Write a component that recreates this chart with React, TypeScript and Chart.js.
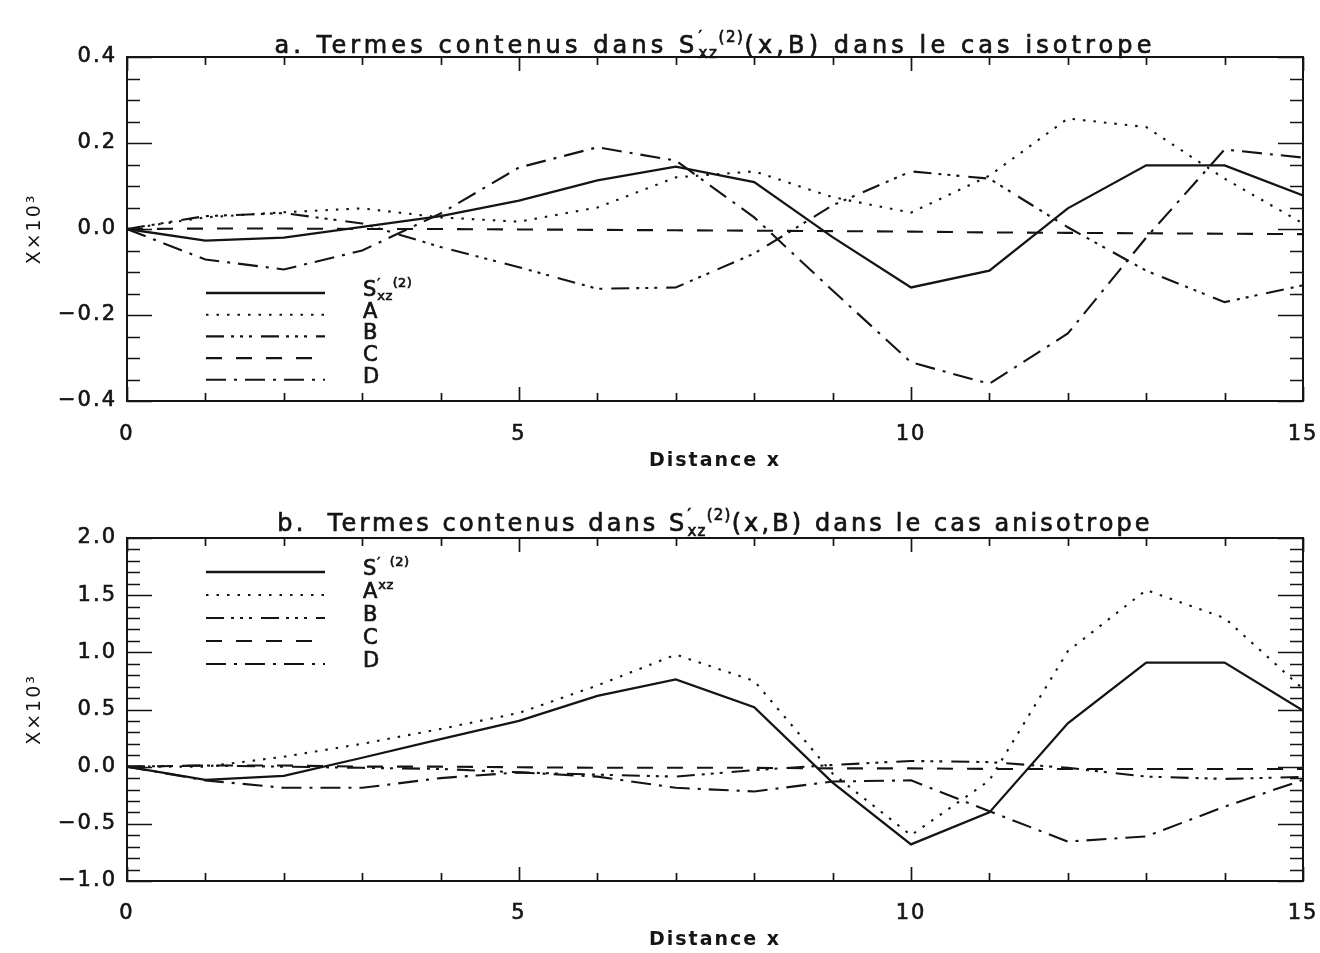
import React, { useEffect, useRef } from "react";
import { Chart, registerables } from "chart.js";

Chart.register(...registerables);

// ---------- data ----------
const X_VALUES = [0, 1, 2, 3, 4, 5, 6, 7, 8, 9, 10, 11, 12, 13, 14, 15];
const SERIES_NAMES = ["S'xz(2)", "A", "B", "C", "D"];

// panel a (isotrope)
const S_ISO = [0, -0.027, -0.02, 0.005, 0.03, 0.066, 0.113, 0.145, 0.109, -0.019, -0.136, -0.097, 0.048, 0.148, 0.148, 0.078];
const A_ISO = [0, 0.027, 0.039, 0.048, 0.027, 0.017, 0.05, 0.12, 0.134, 0.074, 0.038, 0.124, 0.257, 0.237, 0.117, 0.013];
const B_ISO = [0, 0.03, 0.037, 0.013, -0.042, -0.089, -0.139, -0.136, -0.057, 0.055, 0.134, 0.117, 0.004, -0.097, -0.17, -0.131];
const C_ISO = [0, 0.001, 0.001, 0, 0, -0.001, -0.002, -0.003, -0.004, -0.005, -0.006, -0.008, -0.009, -0.01, -0.011, -0.012];
const D_ISO = [0, -0.071, -0.094, -0.05, 0.036, 0.143, 0.19, 0.159, 0.027, -0.143, -0.31, -0.36, -0.243, -0.02, 0.185, 0.166];

// panel b (anisotrope)
const S_ANI = [0, -0.116, -0.081, 0.078, 0.24, 0.4, 0.62, 0.763, 0.52, -0.14, -0.68, -0.4, 0.38, 0.91, 0.91, 0.49];
const A_ANI = [0, 0.0, 0.087, 0.2, 0.33, 0.47, 0.71, 0.98, 0.75, -0.06, -0.6, -0.12, 1.01, 1.545, 1.3, 0.68];
const B_ANI = [0, 0.01, 0.0, -0.01, -0.02, -0.05, -0.07, -0.087, -0.03, 0.015, 0.05, 0.04, -0.01, -0.087, -0.107, -0.09];
const C_ANI = [0, 0.01, 0.01, 0.0, 0.0, -0.005, -0.01, -0.01, -0.01, -0.015, -0.015, -0.02, -0.02, -0.02, -0.02, -0.02];
const D_ANI = [0, -0.12, -0.185, -0.185, -0.1, -0.05, -0.087, -0.185, -0.217, -0.13, -0.12, -0.39, -0.655, -0.61, -0.35, -0.116];

const X_TICK_STEP = 5;
const Y_TITLE = "X\u00d710\u00b3";
const X_TITLE = "Distance x";

// ---------- rich text (sub / superscripts) ----------
type Part = { t: string; k: "n" | "sup" | "sub" };
type Group = Part[]; // parts in a group are stacked at the same x

const TITLE_ISO: Group[] = [
  [{ t: "a. Termes contenus dans S", k: "n" }],
  [{ t: "\u2032", k: "sup" }, { t: "xz", k: "sub" }],
  [{ t: "(2)", k: "sup" }],
  [{ t: "(x,B) dans le cas isotrope", k: "n" }],
];
const TITLE_ANI: Group[] = [
  [{ t: "b.  Termes contenus dans S", k: "n" }],
  [{ t: "\u2032", k: "sup" }, { t: "xz", k: "sub" }],
  [{ t: "(2)", k: "sup" }],
  [{ t: "(x,B) dans le cas anisotrope", k: "n" }],
];

const LEGEND_ISO: Group[][] = [
  [[{ t: "S", k: "n" }], [{ t: "\u2032", k: "sup" }, { t: "xz", k: "sub" }], [{ t: "(2)", k: "sup" }]],
  [[{ t: "A", k: "n" }]],
  [[{ t: "B", k: "n" }]],
  [[{ t: "C", k: "n" }]],
  [[{ t: "D", k: "n" }]],
];
const LEGEND_ANI: Group[][] = [
  [[{ t: "S", k: "n" }], [{ t: "\u2032", k: "sup" }], [{ t: "  (2)", k: "sup" }]],
  [[{ t: "A", k: "n" }], [{ t: "xz", k: "sup" }]],
  [[{ t: "B", k: "n" }]],
  [[{ t: "C", k: "n" }]],
  [[{ t: "D", k: "n" }]],
];

const FONT = "'DejaVu Sans', 'Liberation Sans', sans-serif";
const INK = "#141414";

const DASHES: number[][] = [
  [],
  [2.5, 8],
  [18, 7, 3, 6, 3, 6, 3, 9],
  [16, 14],
  [20, 8, 3, 8],
];

function partFont(p: Part, size: number) {
  const s = p.k === "n" ? size : Math.round(size * 0.62);
  return `${s}px ${FONT}`;
}
function partDy(p: Part, size: number) {
  if (p.k === "sup") return -size * 0.45;
  if (p.k === "sub") return size * 0.2;
  return 0;
}

function setSpacing(ctx: CanvasRenderingContext2D, p: Part, spacing: number) {
  (ctx as any).letterSpacing = `${p.k === "n" ? spacing : spacing * 0.4}px`;
}

function groupsWidth(ctx: CanvasRenderingContext2D, groups: Group[], size: number, spacing: number) {
  let w = 0;
  for (const g of groups) {
    let gw = 0;
    for (const p of g) {
      ctx.font = partFont(p, size);
      setSpacing(ctx, p, spacing);
      gw = Math.max(gw, ctx.measureText(p.t).width);
    }
    w += gw;
  }
  return w;
}

function drawGroups(
  ctx: CanvasRenderingContext2D,
  groups: Group[],
  x: number,
  baseline: number,
  size: number,
  spacing: number
) {
  ctx.save();
  ctx.fillStyle = INK;
  ctx.strokeStyle = INK;
  ctx.lineWidth = 0.7;
  ctx.setLineDash([]);
  ctx.textAlign = "left";
  ctx.textBaseline = "alphabetic";
  let cx = x;
  for (const g of groups) {
    let gw = 0;
    for (const p of g) {
      ctx.font = partFont(p, size);
      setSpacing(ctx, p, spacing);
      ctx.fillText(p.t, cx, baseline + partDy(p, size));
      ctx.strokeText(p.t, cx, baseline + partDy(p, size));
      gw = Math.max(gw, ctx.measureText(p.t).width);
    }
    cx += gw;
  }
  ctx.restore();
}

// ---------- panel specs ----------
type PanelSpec = {
  height: number;
  areaTop: number;
  areaBottom: number;
  areaRightGap: number;
  yMin: number;
  yMax: number;
  yMajor: number;
  yMinor: number;
  series: number[][];
  title: Group[];
  titleBaseline: number;
  titleSpacing: number;
  legend: Group[][];
  legendFirstY: number;
  legendStep: number;
  xTickPad: number;
  xTitlePad: number;
};

const PANELS: PanelSpec[] = [
  {
    height: 478,
    areaTop: 57,
    areaBottom: 401,
    areaRightGap: 17,
    yMin: -0.4,
    yMax: 0.4,
    yMajor: 0.2,
    yMinor: 0.05,
    series: [S_ISO, A_ISO, B_ISO, C_ISO, D_ISO],
    title: TITLE_ISO,
    titleBaseline: 53,
    titleSpacing: 4.1,
    legend: LEGEND_ISO,
    legendFirstY: 236,
    legendStep: 21.7,
    xTickPad: 21,
    xTitlePad: 5.6,
  },
  {
    height: 475,
    areaTop: 60,
    areaBottom: 403,
    areaRightGap: 17,
    yMin: -1.0,
    yMax: 2.0,
    yMajor: 0.5,
    yMinor: 0.1,
    series: [S_ANI, A_ANI, B_ANI, C_ANI, D_ANI],
    title: TITLE_ANI,
    titleBaseline: 53,
    titleSpacing: 3.1,
    legend: LEGEND_ANI,
    legendFirstY: 34,
    legendStep: 23,
    xTickPad: 20,
    xTitlePad: 1.6,
  },
];

function decorPlugin(p: PanelSpec) {
  return {
    id: "decor",
    beforeDraw(chart: any) {
      chart.ctx.letterSpacing = "2px";
    },
    afterDraw(chart: any) {
      const ctx: CanvasRenderingContext2D = chart.ctx;
      (ctx as any).letterSpacing = "0px";
      const a = chart.chartArea;
      const xs = chart.scales.x;
      const ys = chart.scales.y;
      ctx.save();
      ctx.strokeStyle = INK;
      ctx.setLineDash([]);
      ctx.lineWidth = 2;
      ctx.strokeRect(a.left, a.top, a.right - a.left, a.bottom - a.top);
      ctx.lineWidth = 1.7;
      // y ticks (both sides, inside)
      const n = Math.round((p.yMax - p.yMin) / p.yMinor);
      for (let i = 0; i <= n; i++) {
        const v = p.yMin + i * p.yMinor;
        const r = v / p.yMajor;
        const major = Math.abs(r - Math.round(r)) < 1e-6;
        const len = major ? 25 : 13;
        const py = Math.round(ys.getPixelForValue(v)) + 0.5;
        ctx.beginPath();
        ctx.moveTo(a.left, py);
        ctx.lineTo(a.left + len, py);
        ctx.moveTo(a.right, py);
        ctx.lineTo(a.right - len, py);
        ctx.stroke();
      }
      // x ticks (top and bottom, inside)
      for (const xv of X_VALUES) {
        const len = xv % X_TICK_STEP === 0 ? 14 : 8;
        const px = Math.round(xs.getPixelForValue(xv)) + 0.5;
        ctx.beginPath();
        ctx.moveTo(px, a.bottom);
        ctx.lineTo(px, a.bottom - len);
        ctx.moveTo(px, a.top);
        ctx.lineTo(px, a.top + len);
        ctx.stroke();
      }
      // legend
      const lx0 = a.left + 79;
      const lx1 = a.left + 198;
      const tx = a.left + 236;
      chart.data.datasets.forEach((ds: any, i: number) => {
        const y = a.top + p.legendFirstY + i * p.legendStep;
        ctx.save();
        ctx.lineWidth = ds.borderWidth;
        ctx.setLineDash(ds.borderDash || []);
        ctx.beginPath();
        ctx.moveTo(lx0, y);
        ctx.lineTo(lx1, y);
        ctx.stroke();
        ctx.restore();
        drawGroups(ctx, p.legend[i], tx, y + 3, 21, 1);
      });
      // title
      const size = 24;
      const w = groupsWidth(ctx, p.title, size, p.titleSpacing);
      const cx = (a.left + a.right) / 2;
      drawGroups(ctx, p.title, cx - w / 2, p.titleBaseline, size, p.titleSpacing);
      ctx.restore();
      (ctx as any).letterSpacing = "0px";
    },
  };
}

function fmtY(v: number) {
  const r = Math.round(v * 10) / 10;
  if (r === 0) return "0.0";
  return (r < 0 ? "\u2212" : "") + Math.abs(r).toFixed(1);
}

function buildConfig(p: PanelSpec): any {
  const datasets = p.series.map((s, i) => ({
    label: SERIES_NAMES[i],
    data: X_VALUES.map((x, j) => ({ x, y: s[j] })),
    borderColor: INK,
    borderWidth: i === 0 ? 2.3 : 2.1,
    borderDash: DASHES[i],
    pointRadius: 0,
    fill: false,
    tension: 0,
  }));
  const tickFont = { family: FONT, size: 21 };
  return {
    type: "line",
    data: { datasets },
    options: {
      animation: false,
      responsive: false,
      devicePixelRatio: 1,
      layout: { padding: { top: p.areaTop, right: 0, left: 0, bottom: 0 } },
      plugins: {
        legend: { display: false },
        tooltip: { enabled: false },
        title: { display: false },
      },
      scales: {
        x: {
          type: "linear",
          min: 0,
          max: 15,
          grid: { display: false, drawTicks: false },
          border: { display: false },
          ticks: {
            stepSize: X_TICK_STEP,
            autoSkip: false,
            maxRotation: 0,
            padding: p.xTickPad,
            color: INK,
            font: tickFont,
            textStrokeColor: INK,
            textStrokeWidth: 0.6,
            callback: (v: number) => String(v),
          },
          title: {
            display: true,
            text: X_TITLE,
            color: INK,
            font: { family: FONT, size: 19, weight: "bold" },
            padding: { top: 0, bottom: p.xTitlePad },
          },
          afterFit: (s: any) => {
            s.height = p.height - p.areaBottom;
            s.paddingRight = p.areaRightGap;
            s.paddingLeft = 0;
          },
        },
        y: {
          min: p.yMin,
          max: p.yMax,
          grid: { display: false, drawTicks: false },
          border: { display: false },
          ticks: {
            stepSize: p.yMajor,
            padding: 10,
            color: INK,
            font: tickFont,
            textStrokeColor: INK,
            textStrokeWidth: 0.6,
            callback: (v: number) => fmtY(v),
          },
          title: {
            display: true,
            text: Y_TITLE,
            color: INK,
            font: { family: FONT, size: 19 },
            padding: { top: 24, bottom: 0 },
          },
          afterFit: (s: any) => {
            s.width = 127;
            s.paddingTop = 0;
            s.paddingBottom = 0;
          },
        },
      },
    },
    plugins: [decorPlugin(p)],
  };
}

function Panel({ spec }: { spec: PanelSpec }) {
  const ref = useRef<HTMLCanvasElement>(null);
  useEffect(() => {
    const chart = new Chart(ref.current as HTMLCanvasElement, buildConfig(spec));
    return () => chart.destroy();
  }, [spec]);
  return (
    <canvas
      ref={ref}
      width={1320}
      height={spec.height}
      style={{ display: "block", width: 1320, height: spec.height }}
    />
  );
}

export default function App() {
  return (
    <div
      style={{
        position: "absolute",
        left: 0,
        top: 0,
        width: 1320,
        height: 953,
        background: "#ffffff",
        overflow: "hidden",
      }}
    >
      {PANELS.map((p, i) => (
        <Panel key={i} spec={p} />
      ))}
    </div>
  );
}
